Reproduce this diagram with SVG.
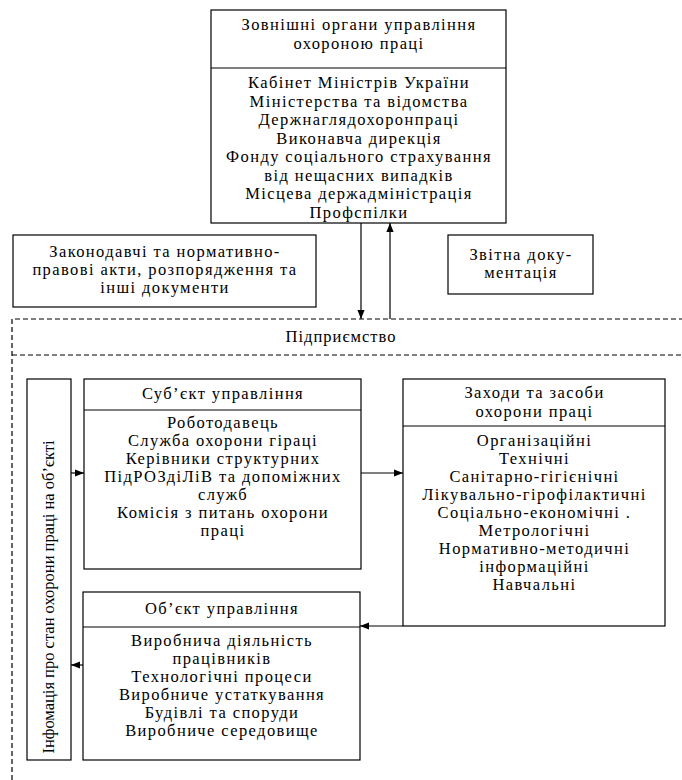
<svg xmlns="http://www.w3.org/2000/svg" width="682" height="780" viewBox="0 0 682 780">
<style>
.box{fill:#fff;stroke:#000;stroke-width:1.2}
.div{stroke:#000;stroke-width:1.2}
.dash{fill:none;stroke:#000;stroke-width:1.2;stroke-dasharray:5 3}
.ln{fill:none;stroke:#000;stroke-width:1.2}
text{font-family:"Liberation Serif","Times New Roman",serif;font-size:16.5px;letter-spacing:1.4px;fill:#000;text-anchor:middle}
.rot{letter-spacing:0}
.ent{letter-spacing:1px}
</style>
<defs>
<marker id="ah" viewBox="0 0 10 10" refX="10" refY="5" markerWidth="9" markerHeight="9" markerUnits="userSpaceOnUse" orient="auto">
<path d="M0,1 L10,5 L0,9 Z" fill="#000"/>
</marker>
</defs>
<rect width="682" height="780" fill="#fff"/>

<g id="external">
<rect class="box" x="211" y="10" width="295" height="213"/>
<line class="div" x1="211" y1="68" x2="506" y2="68"/>
<text x="359" y="30">Зовнішні органи управління</text>
<text x="359" y="49">охороною праці</text>
<text x="359" y="88">Кабінет Міністрів України</text>
<text x="359" y="106.5">Міністерства та відомства</text>
<text x="359" y="125">Держнаглядохоронпраці</text>
<text x="359" y="143.5">Виконавча дирекція</text>
<text x="359" y="162">Фонду соціального страхування</text>
<text x="359" y="180.5">від нещасних випадків</text>
<text x="359" y="199">Місцева держадміністрація</text>
<text x="359" y="217.5">Профспілки</text>
</g>

<g id="laws">
<rect class="box" x="13" y="235" width="303" height="72"/>
<text x="165" y="257">Законодавчі та нормативно-</text>
<text x="165" y="275">правові акти, розпорядження та</text>
<text x="165" y="293">інші документи</text>
</g>

<g id="reports">
<rect class="box" x="448" y="235" width="145" height="59"/>
<text x="521" y="260">Звітна доку-</text>
<text x="521" y="278">ментація</text>
</g>

<g id="enterprise">
<path class="dash" d="M12,780 L12,319 L682,319 M12,355 L682,355"/>
<text class="ent" x="341" y="342">Підприємство</text>
</g>

<g id="info">
<rect class="box" x="27" y="379" width="44" height="381"/>
<text class="rot" transform="translate(54,597) rotate(-90)">Інфомація про стан охорони праці на об’єкті</text>
</g>

<g id="subject">
<rect class="box" x="84" y="379" width="277" height="190"/>
<line class="div" x1="84" y1="410" x2="361" y2="410"/>
<text x="223" y="399">Суб’єкт управління</text>
<text x="223" y="428">Роботодавець</text>
<text x="223" y="446">Служба охорони гіраці</text>
<text x="223" y="464">Керівники структурних</text>
<text x="223" y="482">ПідРОЗдіЛіВ та допоміжних</text>
<text x="223" y="500">служб</text>
<text x="223" y="518">Комісія з питань охорони</text>
<text x="223" y="536">праці</text>
</g>

<g id="measures">
<rect class="box" x="403" y="379" width="262" height="247"/>
<line class="div" x1="403" y1="426" x2="665" y2="426"/>
<text x="534.5" y="398">Заходи та засоби</text>
<text x="534.5" y="417">охорони праці</text>
<text x="534.5" y="446">Організаційні</text>
<text x="534.5" y="464">Технічні</text>
<text x="534.5" y="482">Санітарно-гігієнічні</text>
<text x="534.5" y="500">Лікувально-гірофілактичні</text>
<text x="534.5" y="518">Соціально-економічні .</text>
<text x="534.5" y="536">Метрологічні</text>
<text x="534.5" y="554">Нормативно-методичні</text>
<text x="534.5" y="572">інформаційні</text>
<text x="534.5" y="590">Навчальні</text>
</g>

<g id="object">
<rect class="box" x="83" y="592" width="277" height="168"/>
<line class="div" x1="83" y1="627" x2="360" y2="627"/>
<text x="222" y="614">Об’єкт управління</text>
<text x="222" y="646">Виробнича діяльність</text>
<text x="222" y="664">працівників</text>
<text x="222" y="682">Технологічні процеси</text>
<text x="222" y="700">Виробниче устаткування</text>
<text x="222" y="718">Будівлі та споруди</text>
<text x="222" y="736">Виробниче середовище</text>
</g>

<g id="connectors">
<line class="ln" x1="361" y1="223" x2="361" y2="319" marker-end="url(#ah)"/>
<line class="ln" x1="390" y1="319" x2="390" y2="223" marker-end="url(#ah)"/>
<line class="ln" x1="71" y1="473" x2="84" y2="473" marker-end="url(#ah)"/>
<line class="ln" x1="361" y1="473" x2="403" y2="473" marker-end="url(#ah)"/>
<line class="ln" x1="403" y1="626" x2="360" y2="626" marker-end="url(#ah)"/>
<line class="ln" x1="83" y1="665" x2="71" y2="665" marker-end="url(#ah)"/>
</g>
</svg>
